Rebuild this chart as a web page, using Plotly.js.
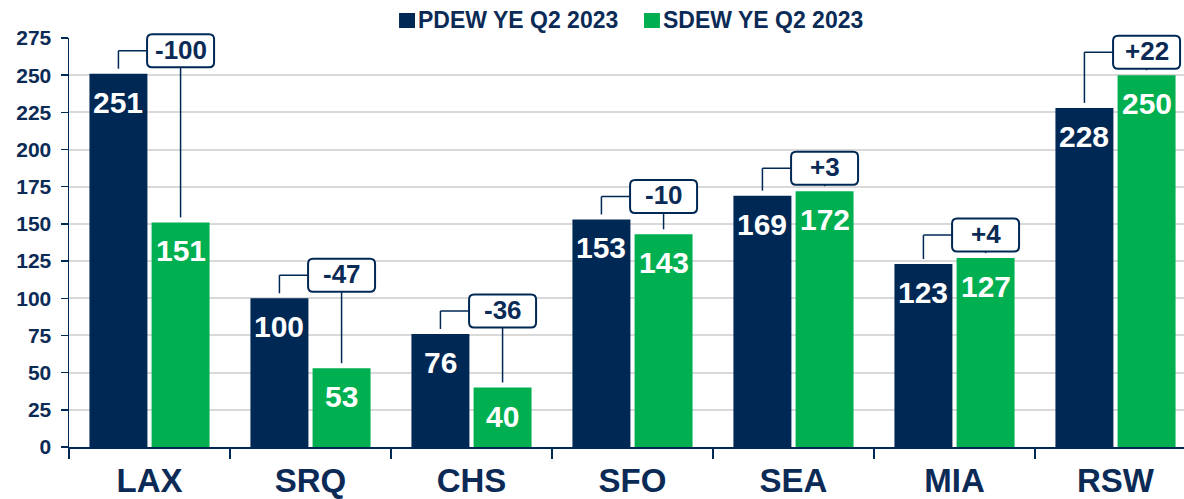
<!DOCTYPE html>
<html>
<head>
<meta charset="utf-8">
<script src="https://cdn.plot.ly/plotly-3.0.1.min.js"></script>
<style>html,body{margin:0;padding:0;background:#fff;}#chart{width:1184px;height:499px;}</style>
</head>
<body>
<div id="chart"></div>
<script>
const categories = ['LAX', 'SRQ', 'CHS', 'SFO', 'SEA', 'MIA', 'RSW'];
const pdewValues = [251, 100, 76, 153, 169, 123, 228];
const sdewValues = [151, 53, 40, 143, 172, 127, 250];
const seriesNames = ['PDEW YE Q2 2023', 'SDEW YE Q2 2023'];
const yTicks = [0, 25, 50, 75, 100, 125, 150, 175, 200, 225, 250, 275];

const NAVY = '#002855';
const GREEN = '#00B050';
const TEXTNAVY = '#0B2B56';
const FONT = 'Liberation Sans, Arial, sans-serif';
const BARGAP = 0.228;
const OFF = (1 - BARGAP) / 4;
const YMAX = yTicks[yTicks.length - 1];
// approx pixel scale helpers (plot is 1115px wide over 6.9255 categories, 409px tall over the y range)
const PX_X = 1 / 161.0;
const PX_Y = YMAX / 409;
const yp = v => v / YMAX; // y value -> paper fraction (y domain is [0,1], range [0,YMAX])

function barTrace(name, vals, color) {
  return {
    type: 'bar', name: name, x: categories, y: vals,
    marker: {color: color, line: {width: 0}},
    showlegend: false, hoverinfo: 'skip'
  };
}

const traces = [barTrace(seriesNames[0], pdewValues, NAVY), barTrace(seriesNames[1], sdewValues, GREEN)];

const shapes = [];
const annotations = [];

function roundedBox(cx, cy, hw, hh, r) {
  const x0 = cx - hw * PX_X, x1 = cx + hw * PX_X;
  const y0 = yp(cy - hh * PX_Y), y1 = yp(cy + hh * PX_Y);
  const rx = r * PX_X, ry = yp(r * PX_Y);
  return `M${x0 + rx},${y1} L${x1 - rx},${y1} Q${x1},${y1} ${x1},${y1 - ry} L${x1},${y0 + ry} Q${x1},${y0} ${x1 - rx},${y0} ` +
         `L${x0 + rx},${y0} Q${x0},${y0} ${x0},${y0 + ry} L${x0},${y1 - ry} Q${x0},${y1} ${x0 + rx},${y1} Z`;
}

categories.forEach((c, i) => {
  const p = pdewValues[i], s = sdewValues[i];
  const top = Math.max(p, s);
  const yb = top + 23 * PX_Y;
  const gap = 5 * PX_Y;
  const diff = s - p;
  const lineStyle = {color: NAVY, width: 1.5};
  shapes.push({type: 'line', xref: 'x', yref: 'paper', x0: i - OFF, x1: i - OFF, y0: yp(p + gap), y1: yp(yb), line: lineStyle, layer: 'above'});
  shapes.push({type: 'line', xref: 'x', yref: 'paper', x0: i - OFF, x1: i + OFF, y0: yp(yb), y1: yp(yb), line: lineStyle, layer: 'above'});
  shapes.push({type: 'line', xref: 'x', yref: 'paper', x0: i + OFF, x1: i + OFF, y0: yp(yb), y1: yp(s + gap), line: lineStyle, layer: 'above'});
  shapes.push({type: 'path', xref: 'x', yref: 'paper', path: roundedBox(i + OFF, yb, 33.5, 16.5, 5),
    fillcolor: '#FFFFFF', line: {color: NAVY, width: 2}, layer: 'above'});
  annotations.push({
    xref: 'x', yref: 'y', x: i + OFF, y: yb, showarrow: false,
    text: (diff > 0 ? '+' : '') + diff,
    font: {family: FONT, size: 26, color: TEXTNAVY, weight: 700},
    xanchor: 'center', yanchor: 'middle', yshift: 1
  });
  // value labels inside bars
  [[p, -OFF], [s, OFF]].forEach(([v, o]) => {
    annotations.push({
      xref: 'x', yref: 'y', x: i + o, y: v, showarrow: false, text: String(v),
      font: {family: FONT, size: 30, color: '#FFFFFF', weight: 700},
      xanchor: 'center', yanchor: 'top', yshift: -10
    });
  });
});

// legend (manual)
const legendItems = [
  {name: seriesNames[0], color: NAVY, sq0: 0.2960, sq1: 0.3103, tx: 0.3112},
  {name: seriesNames[1], color: GREEN, sq0: 0.5157, sq1: 0.5300, tx: 0.5309}
];
legendItems.forEach(it => {
  shapes.push({type: 'rect', xref: 'paper', yref: 'paper', x0: it.sq0, x1: it.sq1, y0: 1.0244, y1: 1.0611, fillcolor: it.color, line: {width: 0}});
  annotations.push({xref: 'paper', yref: 'paper', x: it.tx, y: 1.0440, xanchor: 'left', yanchor: 'middle', showarrow: false,
    text: it.name, font: {family: FONT, size: 23, color: TEXTNAVY, weight: 700}});
});

const layout = {
  width: 1184, height: 499,
  margin: {l: 69, r: 0, t: 38, b: 52, pad: 0},
  paper_bgcolor: '#FFFFFF', plot_bgcolor: '#FFFFFF',
  barmode: 'group', bargap: BARGAP, bargroupgap: 0.067,
  showlegend: false,
  xaxis: {
    type: 'category', range: [-0.5, 6.4255], tickson: 'boundaries',
    ticks: 'outside', ticklen: 10, tickwidth: 1.5, tickcolor: NAVY,
    showline: true, linecolor: NAVY, linewidth: 2, showgrid: false, zeroline: false,
    ticklabelstandoff: 3,
    tickfont: {family: FONT, size: 33, color: TEXTNAVY, weight: 700}
  },
  yaxis: {
    range: [0, YMAX], tickvals: yTicks, ticks: 'outside', ticklen: 7, tickwidth: 1.5, tickcolor: NAVY,
    showline: true, linecolor: NAVY, linewidth: 1.5, showgrid: true, gridcolor: '#D9D9D9', gridwidth: 2,
    zeroline: false, ticklabelstandoff: 5,
    tickfont: {family: FONT, size: 21, color: TEXTNAVY, weight: 700}
  },
  shapes: shapes,
  annotations: annotations
};

Plotly.newPlot('chart', traces, layout, {displayModeBar: false, staticPlot: true});
</script>
</body>
</html>
